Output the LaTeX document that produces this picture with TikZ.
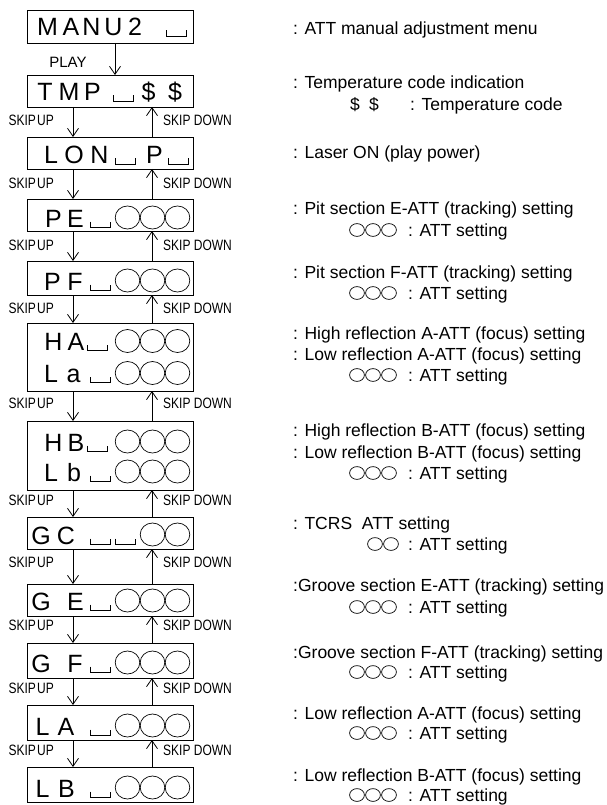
\documentclass[tikz,border=0pt]{standalone}
\usepackage{fontspec}
\setmainfont{Liberation Sans}
\usetikzlibrary{arrows.meta}
\newcommand\bch[3]{\node[bigc] at (#1,#2) {#3};}
\newcommand\myblank[2]{\draw[blankln] (#1,#2-5.5) -- (#1,#2) -- (#1+20,#2) -- (#1+20,#2-5.5);}
\newcommand\bcirc[2]{\draw[ringln] (#1,#2-9.5) ellipse[x radius=12.3, y radius=11.5];}
\newcommand\threeC[1]{\bcirc{127.5}{#1}\bcirc{152.5}{#1}\bcirc{177.5}{#1}}
\newcommand\scirc[2]{\draw[ringln] (#1,#2) ellipse[x radius=7.4, y radius=6.4];}
\newcommand\sthree[1]{\scirc{357}{#1}\scirc{373}{#1}\scirc{389}{#1}}
\newcommand\dline[2]{\node[desc] at (293,#1+6) {#2};}
\newcommand\attline[1]{\sthree{#1}\node[desc] at (408,#1+6) {: ATT setting};}
\begin{document}
\begin{tikzpicture}[x=1pt,y=-1pt,
  boxn/.style={draw, line width=0.9pt, minimum width=166pt, inner sep=0pt, outer sep=0pt},
  bigc/.style={font=\fontsize{25}{25}\selectfont, anchor=base, inner sep=0pt},
  desc/.style={font=\fontsize{17.5}{20}\selectfont, anchor=base west, inner sep=0pt},
  skiplbl/.style={font=\fontsize{15}{15}\selectfont, inner sep=0pt},
  arr/.style={-{Straight Barb[length=8pt,width=11pt]}, line width=0.8pt},
  blankln/.style={line width=0.8pt},
  ringln/.style={line width=0.7pt}]
\useasboundingbox (0,0) rectangle (607,805);
% boxes
\node[boxn, minimum height=33pt] (b1) at (110,26.5) {};
\node[boxn, minimum height=32pt] (b2) at (110,91) {};
\node[boxn, minimum height=32pt] (b3) at (110,153) {};
\node[boxn, minimum height=32pt] (b4) at (110,215) {};
\node[boxn, minimum height=34pt] (b5) at (110,278) {};
\node[boxn, minimum height=68pt] (b6) at (110,357) {};
\node[boxn, minimum height=69pt] (b7) at (110,455.5) {};
\node[boxn, minimum height=32pt] (b8) at (110,533) {};
\node[boxn, minimum height=32pt] (b9) at (110,600) {};
\node[boxn, minimum height=35pt] (b10) at (110,660.5) {};
\node[boxn, minimum height=35pt] (b11) at (110,722.5) {};
\node[boxn, minimum height=35pt] (b12) at (110,784.5) {};
% box contents
\bch{47.5}{36}{M}\bch{71}{36}{A}\bch{91.5}{36}{N}\bch{113.5}{36}{U}\bch{135}{36}{2}\myblank{166}{36}
\bch{45}{101}{T}\bch{69}{101}{M}\bch{92.5}{101}{P}\myblank{113}{101}\bch{148.5}{101}{\$}\bch{175}{101}{\$}
\bch{51}{164}{L}\bch{74}{164}{O}\bch{99.5}{164}{N}\myblank{115}{164}\bch{154.5}{164}{P}\myblank{168}{164}
\bch{53.5}{227}{P}\bch{75.5}{227}{E}\myblank{90}{227}\threeC{227}
\bch{52.5}{290}{P}\bch{75}{290}{F}\myblank{90}{290}\threeC{290}
\bch{53.5}{350.5}{H}\bch{76}{350.5}{A}\myblank{87}{350.5}\threeC{350.5}
\bch{51}{382.5}{L}\bch{73.5}{382.5}{a}\myblank{90}{382.5}\threeC{382.5}
\bch{53.5}{451}{H}\bch{76}{451}{B}\myblank{87}{451}\threeC{451}
\bch{51}{481}{L}\bch{74}{481}{b}\myblank{90}{481}\threeC{481}
\bch{41}{544}{G}\bch{66}{544}{C}\myblank{90}{544}\myblank{115}{544}\bcirc{152.5}{544}\bcirc{177.5}{544}
\bch{41}{610}{G}\bch{75.5}{610}{E}\myblank{90}{610}\threeC{610}
\bch{41}{672}{G}\bch{75}{672}{F}\myblank{90}{672}\threeC{672}
\bch{42.5}{735}{L}\bch{66}{735}{A}\myblank{90}{735}\threeC{735}
\bch{42.5}{797}{L}\bch{66.5}{797}{B}\myblank{90}{797}\threeC{797}
% connectors
\coordinate (pl) at (115,0);
\coordinate (dn) at (73,0);
\coordinate (upx) at (152,0);
\draw[arr] (b1.south -| pl) -- (b2.north -| pl);
\node[skiplbl] at (68,62) {PLAY};
\foreach \a/\b/\ly in {b2/b3/120,b3/b4/183,b4/b5/245,b5/b6/308,b6/b7/403,b7/b8/500,b8/b9/562,b9/b10/625,b10/b11/688,b11/b12/750}{
  \draw[arr] (\a.south -| dn) -- (\b.north -| dn);
  \draw[arr] (\b.north -| upx) -- (\a.south -| upx);
  \node[skiplbl, anchor=east] at (54,\ly) {\scalebox{0.8}[1]{SKIP\hspace{1.5pt}UP}};
  \node[skiplbl, anchor=west] at (163,\ly) {\scalebox{0.8}[1]{SKIP DOWN}};
}
% descriptions
\dline{29}{: ATT manual adjustment menu}
\dline{83}{: Temperature code indication}
\node[desc] at (350,111) {\$};\node[desc] at (369,111) {\$};\node[desc] at (410,111) {: Temperature code};
\dline{153}{: Laser ON (play power)}
\dline{208}{: Pit section E-ATT (tracking) setting}
\attline{230}
\dline{272}{: Pit section F-ATT (tracking) setting}
\attline{293}
\dline{333}{: High reflection A-ATT (focus) setting}
\dline{354}{: Low reflection A-ATT (focus) setting}
\attline{375}
\dline{430}{: High reflection B-ATT (focus) setting}
\dline{452}{: Low reflection B-ATT (focus) setting}
\attline{473}
\dline{523}{: TCRS\ \ ATT setting}
\scirc{375}{544}\scirc{391}{544}\node[desc] at (408,550) {: ATT setting};
\dline{585}{:Groove section E-ATT (tracking) setting}
\attline{607}
\dline{652}{:Groove section F-ATT (tracking) setting}
\attline{672}
\dline{713}{: Low reflection A-ATT (focus) setting}
\attline{733}
\dline{775}{: Low reflection B-ATT (focus) setting}
\attline{795}
\end{tikzpicture}
\end{document}
